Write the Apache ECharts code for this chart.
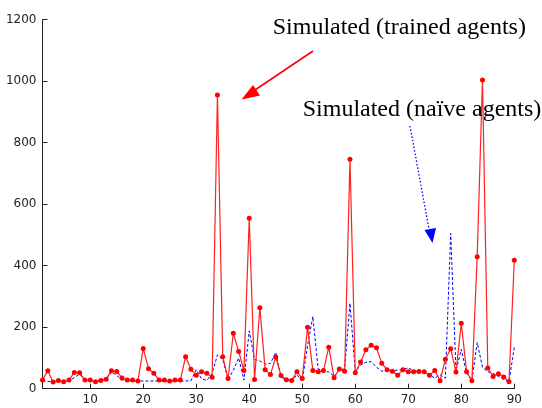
<!DOCTYPE html>
<html>
<head>
<meta charset="utf-8">
<script src="https://cdn.jsdelivr.net/npm/echarts@6/dist/echarts.min.js"></script>
<style>html,body{margin:0;padding:0;background:#fff;}#c{width:542px;height:408px;}</style>
</head>
<body>
<div id="c"></div>
<script>
// x positions (periods)
const periods = Array.from({length: 90}, (_, i) => i + 1);
// Simulated (trained agents) - red with markers
const trained = [28,58,22,27,23,28,53,52,28,28,
  23,27,31,58,56,35,28,28,25,131,
  65,50,28,28,25,28,28,104,63,44,
  55,50,37,955,104,33,180,121,59,554,
  30,263,62,46,103,43,29,27,55,33,
  200,59,55,59,135,36,64,57,746,52,
  87,127,141,133,83,62,57,44,62,55,
  55,56,55,44,59,26,96,130,54,213,
  55,26,429,1004,67,40,49,38,23,418];
// Simulated (naive agents) - blue dashed
const naive = [25,24,22,25,23,26,36,48,27,26,
  23,25,30,54,43,29,25,25,25,25,
  25,25,25,25,25,25,25,25,26,62,
  32,27,49,110,95,30,60,100,28,188,
  95,90,80,82,118,38,25,25,45,25,
  140,235,65,55,55,40,60,65,278,55,
  77,86,88,70,57,61,55,61,62,68,
  58,62,55,46,34,45,34,505,58,128,
  50,27,150,70,55,50,40,30,23,135];
const xTicks = [10,20,30,40,50,60,70,80,90];
const yTicks = [0,200,400,600,800,1000,1200];
const labelTrained = 'Simulated (trained agents)';
const labelNaive = 'Simulated (naïve agents)';

const chart = echarts.init(document.getElementById('c'), null, {renderer: 'canvas'});
const axisFont = {fontFamily: 'DejaVu Sans', fontSize: 12, color: '#222'};
chart.setOption({
  animation: false,
  backgroundColor: '#fff',
  grid: {left: 42.5, right: 27.7, top: 19.7, bottom: 19.3, containLabel: false},
  xAxis: {
    type: 'value', min: 1, max: 90,
    axisLine: {onZero: false, lineStyle: {color: '#222', width: 1}},
    axisTick: {inside: true, length: 5, lineStyle: {color: '#222'}, customValues: xTicks},
    axisLabel: Object.assign({margin: 5, customValues: xTicks, formatter: v => String(v)}, axisFont),
    splitLine: {show: false}
  },
  yAxis: {
    type: 'value', min: 0, max: 1200, interval: 200,
    axisLine: {show: true, lineStyle: {color: '#222', width: 1}},
    axisTick: {show: true, inside: true, length: 5, lineStyle: {color: '#222'}},
    axisLabel: Object.assign({margin: 6, formatter: v => String(v)}, axisFont),
    splitLine: {show: false}
  },
  series: [
    {
      name: labelNaive, type: 'line',
      data: periods.map((p, i) => [p, naive[i]]),
      symbol: 'none',
      lineStyle: {color: '#0000ff', width: 1, type: [3, 2]},
      z: 2
    },
    {
      name: labelTrained, type: 'line',
      data: periods.map((p, i) => [p, trained[i]]),
      symbol: 'circle', symbolSize: 5,
      itemStyle: {color: '#ff0000'},
      lineStyle: {color: '#ff2020', width: 1.2},
      z: 3
    }
  ],
  graphic: [
    {type: 'text', left: 272.7, top: 16, style: {text: labelTrained, font: '24px "Liberation Serif"', fill: '#000'}, z: 10},
    {type: 'text', left: 302.7, top: 97.5, style: {text: labelNaive, font: '24px "Liberation Serif"', fill: '#000'}, z: 10},
    {type: 'line', shape: {x1: 313, y1: 51, x2: 252, y2: 92}, style: {stroke: '#ff0000', lineWidth: 1.6}, z: 10},
    {type: 'polygon', shape: {points: [[241.5, 99.5], [253, 85], [260, 95.5]]}, style: {fill: '#ff0000'}, z: 10},
    {type: 'line', shape: {x1: 410, y1: 126, x2: 429, y2: 229}, style: {stroke: '#0000ff', lineWidth: 1.3, lineDash: [1.5, 2]}, z: 10},
    {type: 'polygon', shape: {points: [[432.5, 243], [424.5, 230], [436, 228]]}, style: {fill: '#0000ff'}, z: 10}
  ]
});
</script>
</body>
</html>
